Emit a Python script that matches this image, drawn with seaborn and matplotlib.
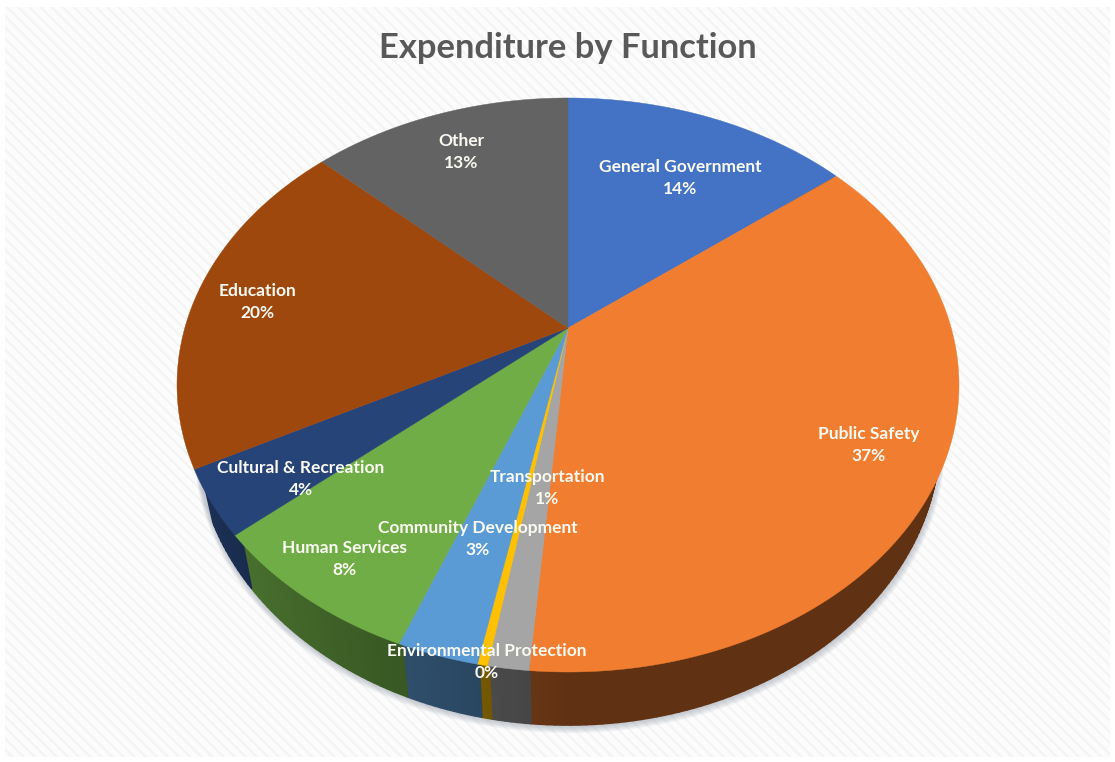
import numpy as np
import matplotlib
matplotlib.use("Agg")
import matplotlib.pyplot as plt
from matplotlib.collections import PolyCollection
from matplotlib.patches import Rectangle
import seaborn as sns

# Spending by function, percent of total
functions = ["General Government", "Public Safety", "Transportation",
             "Environmental Protection", "Community Development",
             "Human Services", "Cultural & Recreation", "Education", "Other"]
shares = [14.4, 36.9, 1.4, 0.35, 2.8, 7.8, 3.65, 19.7, 13.0]
slice_colors = ["#4472C4", "#F07D30", "#A5A5A5", "#FFC000", "#5B9BD5",
                "#70AD47", "#264478", "#9E480E", "#636363"]

sns.set_theme(style="white")
plt.rcParams["font.family"] = ["Lato", "DejaVu Sans"]
plt.rcParams["hatch.linewidth"] = 1.6
palette = sns.color_palette(slice_colors)

fig = plt.figure(figsize=(11.15, 7.62), dpi=100, facecolor="white")
ax = fig.add_axes([0, 0, 1, 1])
ax.set_xlim(0, 1115)
ax.set_ylim(762, 0)
ax.axis("off")

# Striped chart-area backdrop inside a thin white margin
ax.add_patch(Rectangle((5, 7), 1105, 750, facecolor="#fcfcfc",
                       edgecolor="#f4f4f4", hatch="\\\\\\", lw=0, zorder=0))

# Perspective view of a tilted disc: apex position, width and foreshortening
APEX_X, APEX_Y = 568, 328
WIDTH, DEPTH, TILT = 383.2, 275.7, 0.1986
WALL_DROP, WALL_SCALE = 53, 0.95


def rim(theta, reach=1.0):
    """Screen position at a clockwise angle from 12 o'clock on the top face."""
    x, y = reach * np.sin(theta), reach * np.cos(theta)
    w = 1 + TILT * y
    return APEX_X + WIDTH * x / w, APEX_Y - DEPTH * y / w


def base_rim(theta):
    """Matching point on the lower edge of the pie's side wall."""
    px, py = rim(theta)
    return APEX_X + WALL_SCALE * (px - APEX_X), py + WALL_DROP


def wall_shade(theta):
    # The side wall catches a little more light towards the left
    return 0.40 + 0.30 * np.clip((np.degrees(theta) - 180) / 60, 0, 1)


bounds = 2 * np.pi * np.cumsum([0] + shares) / sum(shares)

# Soft drop shadow hugging the lower edge
ring = np.linspace(0, 2 * np.pi, 361)
bx, by = base_rim(ring)
for grow in range(9, 0, -1):
    ax.fill(APEX_X + (bx - APEX_X) * (1 + grow * 0.0012) + grow * 0.15,
            by + grow * 0.9, color="#8f98a8", alpha=0.075, lw=0, zorder=1)

# Side wall, built from thin quads so its shade can vary with the angle;
# the upper corners tuck under the top face and the outlines close the seams.
# Slices starting on the far-left back of the pie have no visible wall.
quads, quad_colors = [], []
for color, start, end in zip(palette, bounds[:-1], bounds[1:]):
    if start > np.radians(240):
        continue
    edges = np.linspace(start, end, max(2, int(np.degrees(end - start)) + 2))
    for t0, t1 in zip(edges[:-1], edges[1:]):
        quads.append([rim(t0, 0.985), rim(t1, 0.985), base_rim(t1), base_rim(t0)])
        quad_colors.append(tuple(c * wall_shade((t0 + t1) / 2) for c in color))
ax.add_collection(PolyCollection(quads, facecolors=quad_colors,
                                 edgecolors=quad_colors, linewidths=1.2, zorder=2))

# Top face of the pie
for color, start, end in zip(palette, bounds[:-1], bounds[1:]):
    arc = np.linspace(start, end, max(2, int(np.degrees(end - start)) * 2 + 2))
    px, py = rim(arc)
    ax.fill(np.r_[APEX_X, px], np.r_[APEX_Y, py], color=color, lw=0.3, zorder=3)

# Data labels: name line and percent line, centred on x at the given heights
label_spots = [(680, 167, 189), (869, 434, 456), (547, 477, 499), (487, 651, 673),
               (478, 528, 550), (344, 548, 570), (301, 468, 490), (257, 291, 313),
               (461, 141, 163)]
text_style = dict(ha="center", va="center", color="#fbfaf2", fontsize=12.5,
                  fontweight="bold", zorder=5)
for name, share, (lx, name_y, pct_y) in zip(functions, shares, label_spots):
    ax.text(lx, name_y, name, **text_style)
    ax.text(lx, pct_y, f"{round(share)}%", **text_style)

ax.text(568, 48, "Expenditure by Function", ha="center", va="center",
        color="#595959", fontsize=24.8, fontweight="bold", zorder=5)

fig.savefig("out.png", dpi=100)
